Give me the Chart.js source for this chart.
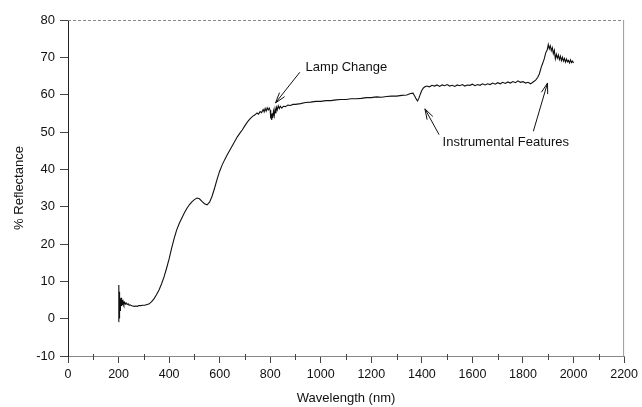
<!DOCTYPE html>
<html>
<head>
<meta charset="utf-8">
<script src="https://cdn.jsdelivr.net/npm/chart.js@4/dist/chart.umd.min.js"></script>
<style>
  html, body { margin: 0; padding: 0; background: #fff; }
  #wrap { width: 642px; height: 407px; position: relative; }
</style>
</head>
<body>
<div id="wrap"><canvas id="c" width="642" height="407"></canvas></div>
<script>
// ---- Data ----
const wavelengths = [
  200,201,202,203,204,205,206,207,208,210,212,214,216,218,221,224,227,230,234,238,242,246,250,256,262,268,274,280,288,296,
  304,312,320,330,340,350,360,370,380,390,400,410,420,430,440,450,460,470,480,490,500,510,520,530,540,550,560,570,580,590,
  600,610,620,630,640,650,660,670,680,690,700,710,720,730,740,748,754,760,766,772,776,780,784,788,792,796,800,802,804,806,
  808,810,813,816,819,822,825,828,832,836,840,846,852,860,870,880,890,900,920,940,960,980,1000,1020,1040,1060,1080,1100,1120,1140,
  1160,1180,1200,1220,1240,1260,1280,1300,1320,1340,1355,1365,1372,1378,1383,1388,1394,1400,1406,1412,1420,1430,1440,1450,1460,1470,1480,1490,1500,1510,
  1520,1530,1540,1550,1560,1570,1580,1590,1600,1610,1620,1630,1640,1650,1660,1670,1680,1690,1700,1710,1720,1730,1740,1750,1760,1770,1780,1790,1800,1810,
  1820,1830,1840,1850,1858,1865,1872,1878,1884,1890,1896,1900,1904,1908,1912,1916,1920,1924,1928,1932,1936,1940,1944,1948,1952,1956,1960,1964,1968,1972,
  1976,1980,1984,1988,1992,1996,2000
];
const reflectance = [
  -0.8,9.0,0.2,7.2,1.0,6.0,2.2,5.4,2.8,5.6,3.4,5.0,3.6,4.6,3.8,4.4,3.9,4.2,3.8,4.0,3.6,3.7,3.5,3.4,3.3,3.4,3.3,3.5,3.5,3.6,
  3.6,3.8,3.9,4.5,5.3,6.4,7.7,9.3,11.2,13.5,16.0,18.9,21.5,23.8,25.5,26.9,28.3,29.5,30.5,31.3,31.9,32.3,32.1,31.4,30.8,30.5,31.2,32.8,35.0,37.4,
  39.5,41.2,42.6,43.9,45.1,46.3,47.5,48.7,49.7,50.6,51.7,52.7,53.5,54.2,54.6,55.1,54.8,55.5,55.2,56.0,55.4,56.3,55.6,56.5,55.9,56.4,55.8,53.6,54.8,53.2,
  55.0,53.8,55.6,54.4,56.2,55.0,56.6,55.9,57.0,56.3,56.9,56.4,56.9,56.8,57.2,57.1,57.4,57.4,57.6,57.9,58.0,58.2,58.2,58.4,58.4,58.6,58.7,58.7,58.9,58.9,
  59.0,59.2,59.2,59.4,59.3,59.5,59.6,59.6,59.8,59.9,60.3,60.4,59.6,58.8,58.3,59.0,60.2,61.2,61.8,62.1,62.3,62.1,62.5,62.3,62.6,62.2,62.6,62.4,62.7,62.3,
  62.5,62.2,62.6,62.4,62.7,62.3,62.6,62.5,62.8,62.4,62.7,62.5,62.9,62.6,62.9,62.7,63.1,62.8,63.2,62.9,63.3,63.0,63.4,63.1,63.5,63.2,63.7,63.3,63.5,63.1,
  63.3,62.9,63.4,63.9,64.6,65.6,67.3,68.4,69.6,71.2,72.0,73.4,72.3,73.1,71.8,72.6,71.0,71.9,69.6,70.8,69.8,70.6,69.4,70.3,69.1,70.0,69.0,69.7,68.7,69.5,
  68.8,69.2,68.5,69.3,68.6,69.0,68.5
];
const xTicks = [0,200,400,600,800,1000,1200,1400,1600,1800,2000,2200];
const yTicks = [-10,0,10,20,30,40,50,60,70,80];
const xTitle = 'Wavelength (nm)';
const yTitle = '% Reflectance';

// annotation text and arrow positions in data units
const notes = [
  { text: 'Lamp Change', x: 940, y: 67.2, arrows: [[917, 66.0, 821, 57.8]] },
  { text: 'Instrumental Features', x: 1482, y: 47.1, arrows: [[1468, 49.3, 1412, 56.2], [1841, 50.2, 1897, 63.1]] }
];

const points = wavelengths.map((w, i) => ({ x: w, y: reflectance[i] }));
const FONT = 'Liberation Sans, Arial, Helvetica, sans-serif';

const decor = {
  id: 'decor',
  afterDatasetsDraw(chart) {
    const { ctx, chartArea: a, scales: { x, y } } = chart;
    ctx.save();
    // top dotted border
    ctx.strokeStyle = '#888';
    ctx.lineWidth = 1;
    ctx.setLineDash([3, 2]);
    ctx.beginPath();
    ctx.moveTo(a.left, a.top + 0.5);
    ctx.lineTo(a.right, a.top + 0.5);
    ctx.stroke();
    ctx.setLineDash([]);
    // right border
    ctx.strokeStyle = '#999';
    ctx.beginPath();
    ctx.moveTo(a.right - 0.5, a.top);
    ctx.lineTo(a.right - 0.5, a.bottom);
    ctx.stroke();
    // minor x ticks
    ctx.strokeStyle = '#444';
    for (let v = 100; v < 2200; v += 200) {
      const px = Math.round(x.getPixelForValue(v)) + 0.5;
      ctx.beginPath();
      ctx.moveTo(px, a.bottom - 2);
      ctx.lineTo(px, a.bottom + 4);
      ctx.stroke();
    }
    // annotations
    ctx.fillStyle = '#111';
    ctx.font = '13px ' + FONT;
    ctx.textBaseline = 'middle';
    ctx.textAlign = 'left';
    ctx.strokeStyle = '#111';
    ctx.lineWidth = 1;
    for (const n of notes) {
      ctx.fillText(n.text, x.getPixelForValue(n.x), y.getPixelForValue(n.y));
      for (const ar of n.arrows) {
        const x1 = x.getPixelForValue(ar[0]), y1 = y.getPixelForValue(ar[1]);
        const x2 = x.getPixelForValue(ar[2]), y2 = y.getPixelForValue(ar[3]);
        ctx.beginPath();
        ctx.moveTo(x1, y1);
        ctx.lineTo(x2, y2);
        ctx.stroke();
        const ang = Math.atan2(y2 - y1, x2 - x1);
        const L = 11, spread = 0.3;
        ctx.beginPath();
        ctx.moveTo(x2 - L * Math.cos(ang - spread), y2 - L * Math.sin(ang - spread));
        ctx.lineTo(x2, y2);
        ctx.lineTo(x2 - L * Math.cos(ang + spread), y2 - L * Math.sin(ang + spread));
        ctx.stroke();
      }
    }
    ctx.restore();
  }
};

new Chart(document.getElementById('c'), {
  type: 'line',
  data: {
    datasets: [{
      data: points,
      borderColor: '#111',
      borderWidth: 1.1,
      pointRadius: 0,
      tension: 0,
      fill: false
    }]
  },
  options: {
    responsive: false,
    animation: false,
    layout: { padding: { top: 20, right: 15, left: 0, bottom: 0 } },
    plugins: { legend: { display: false }, tooltip: { enabled: false } },
    scales: {
      x: {
        type: 'linear',
        min: 0, max: 2200,
        afterBuildTicks(s) { s.ticks = xTicks.map(v => ({ value: v })); },
        afterFit(s) { s.height = 51; },
        ticks: { color: '#111', font: { family: FONT, size: 12.5 }, padding: 4, maxRotation: 0, autoSkip: false,
                 callback: v => String(v) },
        grid: { drawOnChartArea: false, drawTicks: true, tickLength: 7, color: '#444' },
        border: { display: true, color: '#888' },
        title: { display: true, text: xTitle, color: '#111', font: { family: FONT, size: 13 }, padding: { top: 0, bottom: 1 } }
      },
      y: {
        min: -10, max: 80,
        afterBuildTicks(s) { s.ticks = yTicks.map(v => ({ value: v })); },
        afterFit(s) { s.width = 68; },
        ticks: { color: '#111', font: { family: FONT, size: 13 }, padding: 5, autoSkip: false,
                 callback: v => String(v) },
        grid: { drawOnChartArea: false, drawTicks: true, tickLength: 8, color: '#444' },
        border: { display: true, color: '#222' },
        title: { display: true, text: yTitle, color: '#111', font: { family: FONT, size: 13 }, padding: { top: 12, bottom: 0 } }
      }
    }
  },
  plugins: [decor]
});
</script>
</body>
</html>
